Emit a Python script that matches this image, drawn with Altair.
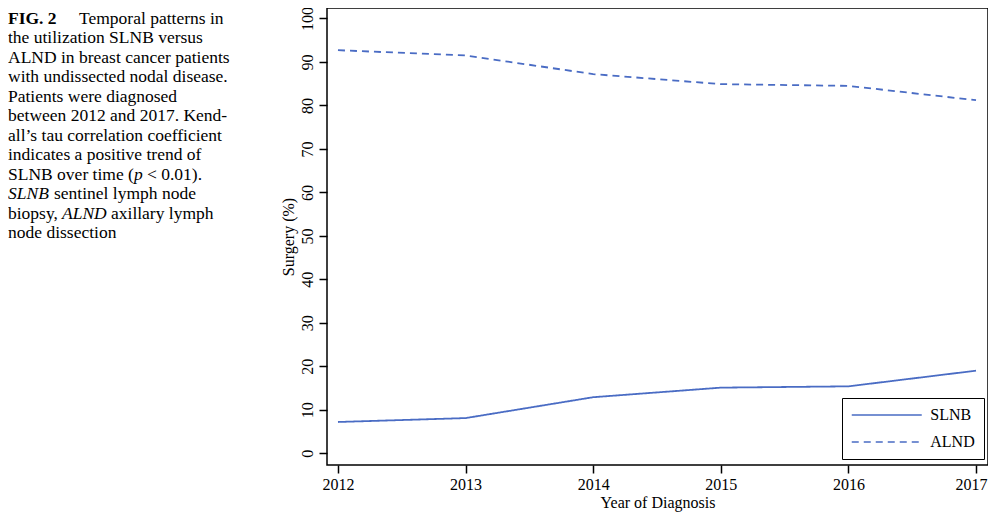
import altair as alt
import pandas as pd

# ---- data ----
years = [2012, 2013, 2014, 2015, 2016, 2017]
slnb = [7.2, 8.1, 12.9, 15.1, 15.4, 19.0]
alnd = [92.7, 91.5, 87.2, 84.9, 84.5, 81.2]
series_names = ["SLNB", "ALND"]
y_ticks = [0, 10, 20, 30, 40, 50, 60, 70, 80, 90, 100]

df = pd.DataFrame({
    "year": years * 2,
    "value": slnb + alnd,
    "series": ["SLNB"] * len(years) + ["ALND"] * len(years),
})

FONT = "Liberation Serif"
BLUE = "#4a6cc4"

lines = alt.Chart(df).mark_line(color=BLUE, strokeWidth=1.8).encode(
    x=alt.X("year:Q",
            scale=alt.Scale(domain=[2011.914, 2017.094], nice=False, zero=False),
            axis=alt.Axis(values=years, format="d", title="Year of Diagnosis",
                          tickSize=8, labelPadding=3, titlePadding=2,
                          labelOffset={"condition": {"test": "datum.value == 2017", "value": -5},
                                       "value": 0},
                          domain=False, grid=False)),
    y=alt.Y("value:Q",
            scale=alt.Scale(domain=[-2.69, 102.41], nice=False, zero=False),
            axis=alt.Axis(values=y_ticks, title="Surgery (%)",
                          tickSize=8, labelPadding=4, titlePadding=3,
                          labelAngle=270, labelAlign="center", labelBaseline="bottom",
                          domain=False, grid=False)),
    strokeDash=alt.StrokeDash("series:N",
                              scale=alt.Scale(domain=series_names, range=[[1, 0], [7, 5]]),
                              legend=alt.Legend(title=None, orient="none",
                                                legendX=515, legendY=390,
                                                strokeColor="black", fillColor="white",
                                                padding=9, symbolType="M-7,0H7",
                                                symbolSize=100, symbolStrokeWidth=1.5,
                                                symbolStrokeColor=BLUE,
                                                symbolOffset=27.75,
                                                labelFont=FONT, labelFontSize=16,
                                                labelColor="black", labelOffset=35.5,
                                                rowPadding=11)),
    detail="series:N",
)

# ---- caption (figure legend text) ----
caption_segments = [
    # (text, style, line index, x on page)
    ("FIG. 2", "bold", 0, 8),
    ("Temporal patterns in", "normal", 0, 79),
    ("the utilization SLNB versus", "normal", 1, 8),
    ("ALND in breast cancer patients", "normal", 2, 8),
    ("with undissected nodal disease.", "normal", 3, 8),
    ("Patients were diagnosed", "normal", 4, 8),
    ("between 2012 and 2017. Kend-", "normal", 5, 8),
    ("all\u2019s tau correlation coefficient", "normal", 6, 8),
    ("indicates a positive trend of", "normal", 7, 8),
    ("SLNB over time (", "normal", 8, 8),
    ("p", "italic", 8, 134),
    ("< 0.01).", "normal", 8, 147),
    ("SLNB", "italic", 9, 8),
    ("sentinel lymph node", "normal", 9, 54),
    ("biopsy,", "normal", 10, 8),
    ("ALND", "italic", 10, 62),
    ("axillary lymph", "normal", 10, 111),
    ("node dissection", "normal", 11, 8),
]

PLOT_LEFT = 327
PLOT_TOP = 8
cap = pd.DataFrame(caption_segments, columns=["text", "style", "line", "xpage"])
cap["px"] = cap["xpage"] - PLOT_LEFT
cap["py"] = 24 + 19.45 * cap["line"] - PLOT_TOP

marks = [lines]
for style in ["normal", "bold", "italic"]:
    kw = dict(align="left", baseline="alphabetic", font=FONT, fontSize=17.5, color="black")
    if style == "bold":
        kw["fontWeight"] = "bold"
    if style == "italic":
        kw["fontStyle"] = "italic"
    marks.append(
        alt.Chart(cap[cap["style"] == style]).mark_text(**kw).encode(
            x=alt.X("px:Q", scale=None),
            y=alt.Y("py:Q", scale=None),
            text="text:N",
        )
    )

chart = alt.layer(*marks).properties(
    width=661, height=457,
    background="white",
    autosize=alt.AutoSizeParams(type="none"),
    padding={"left": 319, "top": 0, "right": 0, "bottom": 52},
).configure_view(
    stroke="black", strokeWidth=1.5
).configure_axis(
    labelFont=FONT, titleFont=FONT, labelFontSize=16, titleFontSize=16,
    titleFontWeight="normal", labelColor="black", titleColor="black",
    tickColor="black", tickWidth=1.5,
)

chart.save("out.html", embed_options={"renderer": "svg", "actions": False})
